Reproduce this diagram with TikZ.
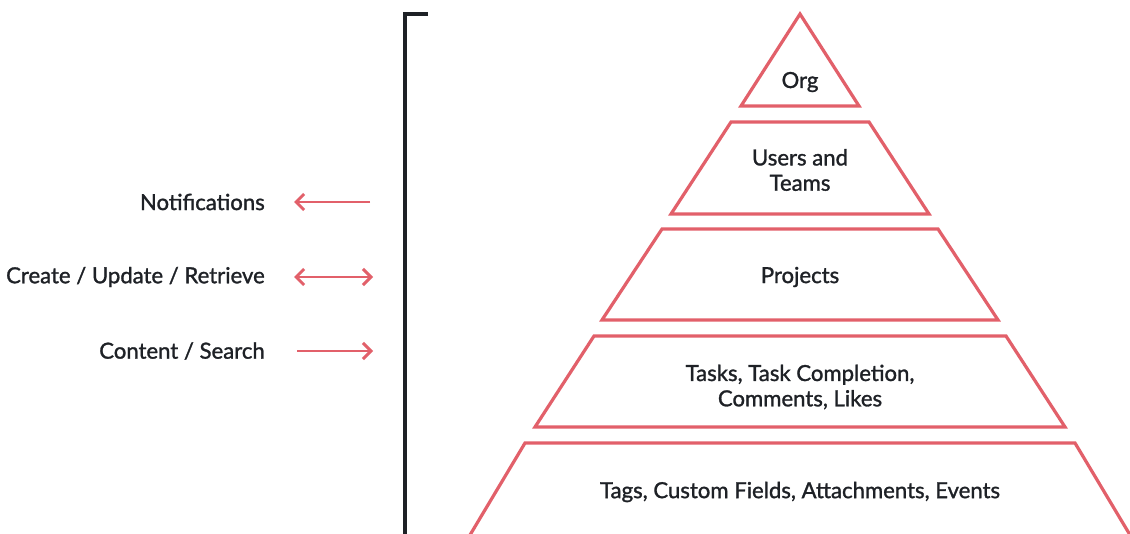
\documentclass[tikz,border=0pt]{standalone}
\usepackage{fontspec}
\setmainfont{Lato}[UprightFeatures={FakeBold=1.3}]
\usetikzlibrary{arrows.meta}
\definecolor{pyr}{HTML}{E2606A}
\definecolor{ink}{HTML}{1E2126}
\tikzset{
  tip/.tip={Straight Barb[length=6pt,width=12pt,line width=2.2pt]},
  layer/.style={draw=pyr, line width=2.4pt, line join=miter},
  lbl/.style={text=ink, font=\fontsize{16.6}{19}\selectfont, align=center, inner sep=0pt},
  side/.style={text=ink, font=\fontsize{16.6}{19}\selectfont, anchor=east, inner sep=0pt},
  conn/.style={draw=pyr, line width=2.2pt, -tip},
  bracket/.style={draw=ink, line width=2.4pt}
}
\begin{document}
\begin{tikzpicture}[x=0.75pt,y=-0.75pt]
\useasboundingbox (0,0) rectangle (1130,534);
\fill[white] (0,0) rectangle (1130,534);
\begin{scope}
\clip (0,0) rectangle (1130,534);
% layers
\draw[layer] (800,14) -- (859,106) -- (741,106) -- cycle;
\draw[layer] (731,122) -- (869,122) -- (929,214) -- (671,214) -- cycle;
\draw[layer] (662,229) -- (938,229) -- (998,320) -- (602,320) -- cycle;
\draw[layer] (594,336) -- (1006,336) -- (1065,427) -- (535,427) -- cycle;
\draw[layer] (467,540) -- (525,443) -- (1075,443) -- (1133,540);
% bracket
\draw[bracket] (428,14) -- (405,14) -- (405,540);
\end{scope}
% labels
\node[lbl] (org) at (800,82) {Org};
\node[lbl] (users) at (800,170) {Users and\\Teams};
\node[lbl] (proj) at (800,277) {Projects};
\node[lbl] (tasks) at (800,387) {Tasks, Task Completion,\\Comments, Likes};
\node[lbl] (tags) at (800,492) {Tags, Custom Fields, Attachments, Events};
% side labels
\node[side] (notif) at (265,202) {Notifications};
\node[side] (cur) at (265,277) {Create / Update / Retrieve};
\node[side] (cs) at (265,351) {Content / Search};
% arrow ends
\coordinate (n1) at (370,202); \coordinate (n2) at (294,202);
\coordinate (c1) at (294,277); \coordinate (c2) at (373,277);
\coordinate (s1) at (297,351); \coordinate (s2) at (373,351);
\draw[conn] (n1) -- (n2);
\draw[conn, tip-tip] (c1) -- (c2);
\draw[conn] (s1) -- (s2);
\end{tikzpicture}
\end{document}
